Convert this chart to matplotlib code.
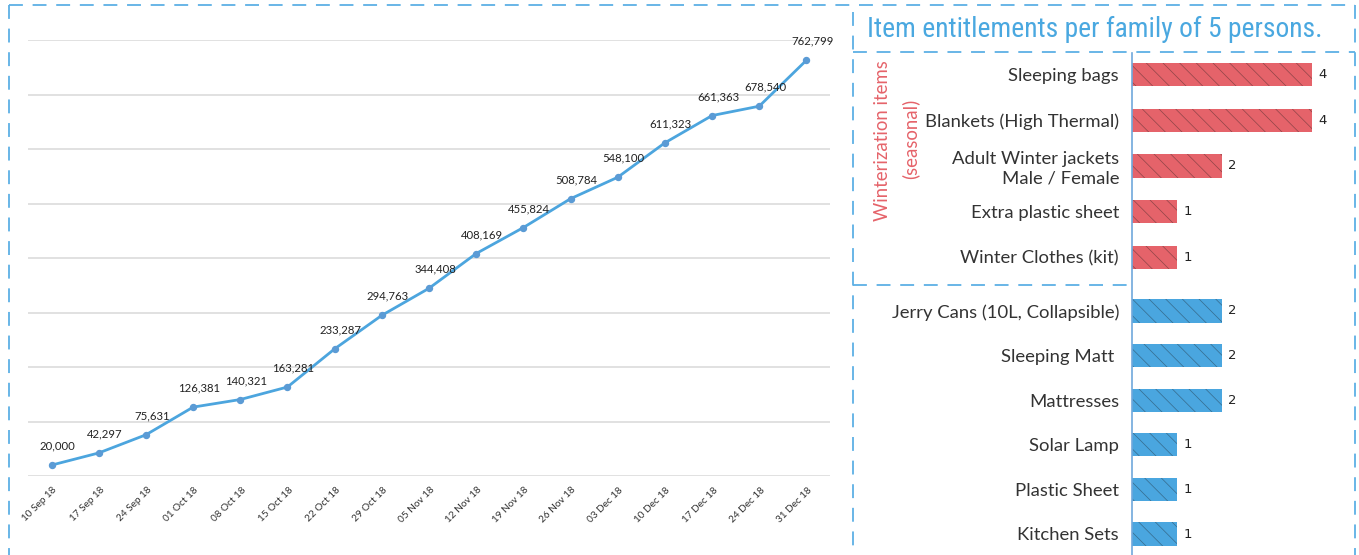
import matplotlib
matplotlib.use("Agg")
import matplotlib.pyplot as plt
from matplotlib.lines import Line2D
from matplotlib import font_manager
from matplotlib.font_manager import FontProperties
import matplotlib.transforms as mtrans
import numpy as np

# ---------------- data ----------------
dates = ["10 Sep 18", "17 Sep 18", "24 Sep 18", "01 Oct 18", "08 Oct 18", "15 Oct 18",
         "22 Oct 18", "29 Oct 18", "05 Nov 18", "12 Nov 18", "19 Nov 18", "26 Nov 18",
         "03 Dec 18", "10 Dec 18", "17 Dec 18", "24 Dec 18", "31 Dec 18"]
cumulative = [20000, 42297, 75631, 126381, 140321, 163281, 233287, 294763, 344408,
              408169, 455824, 508784, 548100, 611323, 661363, 678540, 762799]

winter_items = ["Sleeping bags", "Blankets (High Thermal)", "Adult Winter jackets\nMale / Female",
                "Extra plastic sheet", "Winter Clothes (kit)"]
winter_qty = [4, 4, 2, 1, 1]

core_items = ["Jerry Cans (10L, Collapsible)", "Sleeping Matt ", "Mattresses",
              "Solar Lamp", "Plastic Sheet", "Kitchen Sets"]
core_qty = [2, 2, 2, 1, 1, 1]

title_text = "Item entitlements per family of 5 persons."
group_label = "Winterization items"
group_sub = "(seasonal)"

# ---------------- style ----------------
plt.rcParams["font.family"] = ["Lato", "DejaVu Sans"]
plt.rcParams["lines.scale_dashes"] = False
plt.rcParams["hatch.linewidth"] = 0.5

W, H = 1359, 555
DPI = 100
fig = plt.figure(figsize=(W / DPI, H / DPI), dpi=DPI)

def fx(px):
    return px / W

def fy(py):
    return 1 - py / H

LINE_BLUE = "#4CA5DE"
MARK_BLUE = "#5B9BD5"
DASH_BLUE = "#5DB0E5"
RED = "#E5636A"
BAR_BLUE = "#4AA6DF"
TXT = "#333333"

# ---------------- left line chart ----------------
axL = fig.add_axes([fx(28), fy(476), fx(830) - fx(28), fy(40) - fy(476)])
x = np.arange(len(dates))
axL.plot(x, cumulative, color=LINE_BLUE, lw=2.0, zorder=3, solid_joinstyle="round")
axL.plot(x, cumulative, ls="none", marker="o", ms=4.3, color=MARK_BLUE, zorder=4)
axL.set_xlim(-0.5, len(dates) - 0.5)
axL.set_ylim(0, 800000)
axL.set_yticks(np.arange(0, 800001, 100000))
axL.yaxis.grid(True, color="#D9D9D9", lw=1.1)
axL.set_axisbelow(True)
for s in axL.spines.values():
    s.set_visible(False)
axL.tick_params(axis="y", left=False, labelleft=False)
axL.tick_params(axis="x", length=0, pad=9)
axL.set_xticks(x)
axL.set_xticklabels(dates, rotation=45, ha="right", va="center",
                    rotation_mode="anchor", fontsize=7.2, color=TXT)
off = mtrans.ScaledTranslation(4 / DPI, 0, fig.dpi_scale_trans)
for lb in axL.get_xticklabels():
    lb.set_transform(lb.get_transform() + off)
for xi, v in zip(x, cumulative):
    axL.annotate(f"{v:,}", (xi, v), xytext=(6, 19), textcoords="offset pixels",
                 ha="center", va="center", fontsize=8.2, color="#222222")

# ---------------- right bar charts ----------------
AX_X0 = 1131.5
AX_X1 = 1355
UNIT = 45.0

def bar_axes(top_px, bottom_px):
    ax = fig.add_axes([fx(AX_X0), fy(bottom_px), fx(AX_X1) - fx(AX_X0), fy(top_px) - fy(bottom_px)])
    ax.set_xlim(0, (AX_X1 - AX_X0) / UNIT)
    for s in ax.spines.values():
        s.set_visible(False)
    ax.tick_params(axis="x", bottom=False, labelbottom=False)
    ax.tick_params(axis="y", left=False, length=0, pad=9)
    ax.patch.set_alpha(0)
    return ax

def draw_bars(ax, items, qty, color, height):
    y = np.arange(len(items))
    ax.barh(y, qty, height=height, color=color, hatch="\\\\",
            edgecolor=(0.1, 0.1, 0.1, 0.42), linewidth=0)
    ax.set_ylim(len(items) - 0.5, -0.5)
    ax.set_yticks(y)
    ax.set_yticklabels(items, fontsize=13.3, color=TXT, ha="right", linespacing=1.25)
    for yi, q in zip(y, qty):
        ax.annotate(str(q), (q, yi), xytext=(11, 0), textcoords="offset pixels",
                    ha="center", va="center", fontsize=9.5, color="#222222",
                    family="DejaVu Sans")

axT = bar_axes(52, 280)
draw_bars(axT, winter_items, winter_qty, RED, 0.51)
axB = bar_axes(288.7, 556.3)
draw_bars(axB, core_items, core_qty, BAR_BLUE, 0.52)

# vertical axis line of the bar panel
fig.add_artist(Line2D([fx(AX_X0), fx(AX_X0)], [fy(53), fy(555)], color="#6FA8DC", lw=1.2))

# group labels
fig.text(fx(882), fy(141), group_label, rotation=90, ha="center", va="center",
         fontsize=13.4, color=RED)
fig.text(fx(910), fy(139), group_sub, rotation=90, ha="center", va="center",
         fontsize=13.4, color=RED)

# title: prefer a condensed face, fit to the target width
cands = []
for f in font_manager.fontManager.ttflist:
    nm = f.name
    cond = ("Condensed" in nm or "Narrow" in nm or
            str(f.stretch) in ("condensed", "semi-condensed", "extra-condensed"))
    if cond and f.style == "normal" and f.weight in (400, "normal", "regular", "book"):
        cands.append(f)
pref = ["Roboto", "Liberation", "Noto Sans", "Open Sans", "DejaVu"]
cands.sort(key=lambda f: next((i for i, p in enumerate(pref) if f.name.startswith(p)), 99))
if cands:
    tprop = FontProperties(fname=cands[0].fname)
else:
    tprop = FontProperties(family="Roboto")
t = fig.text(fx(1095), fy(29), title_text, ha="center", va="center",
             fontproperties=tprop, color="#4AA8E0")
t.set_fontsize(19)
fig.canvas.draw()
bb = t.get_window_extent(renderer=fig.canvas.get_renderer())
t.set_fontsize(19 * 456.0 / bb.width)

# ---------------- dashed frames ----------------
def dline(x0, y0, x1, y1):
    fig.add_artist(Line2D([fx(x0), fx(x1)], [fy(y0), fy(y1)], color=DASH_BLUE,
                          lw=1.3, dashes=(10, 7)))

dline(9, 5, 1355, 5)          # top
dline(9, 5, 9, 555)           # left edge
dline(853, 12, 853, 555)      # separator between panels
dline(1355, 5, 1355, 555)     # right edge
dline(853, 52, 1355, 52)      # title underline
dline(853, 285, 1131, 285)    # group separator

fig.savefig("out.png", dpi=DPI)
